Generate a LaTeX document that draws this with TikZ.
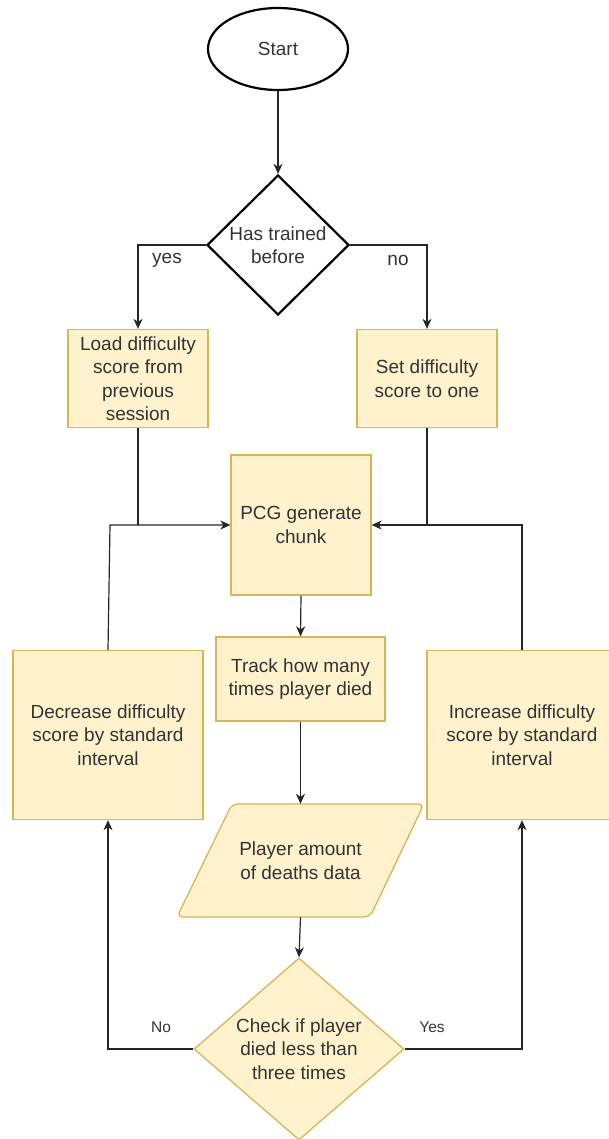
\documentclass[tikz,border=0pt]{standalone}
\usepackage{fontspec}
\setmainfont{Liberation Sans}
\usetikzlibrary{shapes.geometric,arrows.meta}
\definecolor{boxfill}{HTML}{FFF2CC}
\definecolor{boxline}{HTML}{D6B656}
\definecolor{txt}{HTML}{333333}

\begin{document}
\begin{tikzpicture}[x=1pt,y=-1pt,
  every node/.style={font=\fontsize{19}{23.5}\selectfont, text=txt, align=center, inner sep=0pt},
  procbox/.style={rectangle, draw=boxline, fill=boxfill, line width=1.3pt},
  flow/.style={line width=1.2pt, draw=black!85, -{Stealth[length=10pt,width=9pt,inset=3pt]}},
  plain/.style={line width=1.2pt, draw=black!85},
  branch/.style={font=\fontsize{19}{23}\selectfont},
  smallbranch/.style={font=\fontsize{15.5}{18}\selectfont}
]
\useasboundingbox (0,0) rectangle (608,1139);

% start terminal and first decision
\node[ellipse, draw=black, line width=2.2pt, minimum width=140pt, minimum height=82pt] (start) at (278,49) {Start};
\node[diamond, draw=black, line width=2.2pt, minimum width=142pt, minimum height=140pt,
      label={[font=\fontsize{19}{23.5}\selectfont, text=txt, align=center]center:Has trained\\before}] (d1) at (278,245) {};

% initial difficulty
\node[procbox, minimum width=140pt, minimum height=98pt] (load) at (138,378.5) {Load difficulty\\score from\\previous\\session};
\node[procbox, minimum width=140pt, minimum height=98pt] (set) at (427,378.5) {Set difficulty\\score to one};

% main loop
\node[procbox, minimum width=140pt, minimum height=140pt] (pcg) at (301,525) {PCG generate\\chunk};
\node[procbox, minimum width=169pt, minimum height=84pt] (track) at (300.5,679) {Track how many\\times player died};
\node[procbox, minimum width=190pt, minimum height=169pt] (dec) at (108,735) {Decrease difficulty\\score by standard\\interval};
\node[procbox, minimum width=190pt, minimum height=169pt] (inc) at (522,735) {Increase difficulty\\score by standard\\interval};

% data parallelogram
\draw[draw=boxline, fill=boxfill, line width=1.3pt, rounded corners=6pt]
  (232,804) -- (424,804) -- (370,917) -- (177,917) -- cycle;
\node[minimum width=150pt, minimum height=113pt] (data) at (300.5,860.5) {Player amount\\of deaths data};

% second decision
\node[diamond, draw=boxline, fill=boxfill, line width=1.3pt, minimum width=210pt, minimum height=182pt,
      label={[font=\fontsize{19}{23.5}\selectfont, text=txt, align=center]center:Check if player\\died less than\\three times}] (d2) at (299,1049) {};

% connectors
\draw[flow] (start.south) -- (d1.north);
\draw[flow] (d1.west) -| (load.north);
\draw[flow] (d1.east) -| (set.north);
\node[branch] (yeslbl) at (167,260) {yes};
\node[branch] (nolbl) at (398,260) {no};

\coordinate (jl) at (110,525);
\draw[plain] (load.south) -- (load.south |- jl);
\draw[flow] (dec.north) -- (jl) -- (pcg.west);
\coordinate (jr) at (522,525);
\draw[plain] (set.south) -- (set.south |- jr);
\draw[flow] (inc.north) -- (jr) -- (pcg.east);

\draw[flow] (pcg.south) -- (track.north);
\draw[flow] (track.south) -- (data.north);
\draw[flow] (data.south) -- (d2.north);

\draw[flow] (d2.west) -| (dec.south);
\draw[flow] (d2.east) -| (inc.south);
\node[smallbranch] (nolbl2) at (161,1027) {No};
\node[smallbranch] (yeslbl2) at (432,1027) {Yes};
\end{tikzpicture}
\end{document}
